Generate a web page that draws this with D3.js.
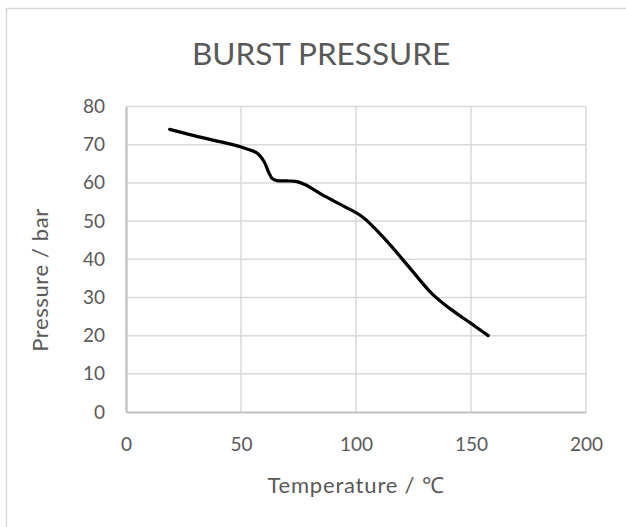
<!DOCTYPE html>
<html>
<head>
<meta charset="utf-8">
<script src="https://cdn.jsdelivr.net/npm/d3@7"></script>
<style>
  html, body { margin: 0; padding: 0; background: #fff; }
  svg { display: block; }
  text { font-family: Lato, "Open Sans", sans-serif; fill: #595959; }
</style>
</head>
<body>
<svg id="chart" width="626" height="527"></svg>
<script>
const title = "BURST PRESSURE";
const xTitle = "Temperature / ℃";
const yTitle = "Pressure / bar";
const xTicks = [0, 50, 100, 150, 200];
const yTicks = [0, 10, 20, 30, 40, 50, 60, 70, 80];
const temperature = [19, 30, 45, 52, 57, 60, 62, 63.5, 65.5, 70, 74, 78, 85, 95, 103, 113, 123, 133, 141, 150, 157.5];
const pressure    = [74, 72.3, 70.2, 69, 67.8, 65.6, 62.8, 61.2, 60.6, 60.5, 60.4, 59.5, 57, 53.8, 51, 45, 38, 31, 27, 23.2, 20];

const svg = d3.select("#chart");
const plot = { left: 126, right: 586, top: 106.5, bottom: 412 };

// chart border
svg.append("rect")
  .attr("x", 6.5).attr("y", 8.5).attr("width", 700).attr("height", 700)
  .attr("fill", "#fff").attr("stroke", "#d9d9d9").attr("stroke-width", 1.5);

const x = d3.scaleLinear().domain([0, 200]).range([plot.left, plot.right]);
const y = d3.scaleLinear().domain([0, 80]).range([plot.bottom, plot.top]);

// gridlines
const grid = svg.append("g").attr("stroke", "#d9d9d9").attr("stroke-width", 1.5);
grid.selectAll("line.h").data(yTicks.filter(d => d > 0)).join("line")
  .attr("x1", plot.left).attr("x2", plot.right)
  .attr("y1", d => y(d)).attr("y2", d => y(d));
grid.selectAll("line.v").data(xTicks.filter(d => d > 0)).join("line")
  .attr("x1", d => x(d)).attr("x2", d => x(d))
  .attr("y1", plot.top).attr("y2", plot.bottom);

// axes
const xAxis = svg.append("g").attr("transform", `translate(0,${plot.bottom})`)
  .call(d3.axisBottom(x).tickValues(xTicks).tickSize(0).tickPadding(26).tickFormat(d3.format("d")));
const yAxis = svg.append("g").attr("transform", `translate(${plot.left},0)`)
  .call(d3.axisLeft(y).tickValues(yTicks).tickSize(0).tickPadding(21).tickFormat(d3.format("d")));
[xAxis, yAxis].forEach(a => {
  a.select(".domain").attr("stroke", "#bfbfbf").attr("stroke-width", 2.2);
  a.selectAll("text").style("font-family", "Lato, 'Open Sans', sans-serif")
    .style("font-size", "19px").attr("fill", "#595959");
});

// line
const line = d3.line()
  .x((d, i) => x(temperature[i]))
  .y(d => y(d))
  .curve(d3.curveCatmullRom.alpha(0.5));
svg.append("path").datum(pressure)
  .attr("d", line)
  .attr("fill", "none").attr("stroke", "#000").attr("stroke-width", 3.2)
  .attr("stroke-linecap", "round").attr("stroke-linejoin", "round");

// titles
svg.append("text").attr("x", 321).attr("y", 65).attr("text-anchor", "middle")
  .style("font-size", "31.5px").text(title);
svg.append("text").attr("x", 356).attr("y", 493).attr("text-anchor", "middle")
  .style("font-size", "22px").style("letter-spacing", "0.8px").text(xTitle);
svg.append("text").attr("transform", "translate(48,280) rotate(-90)")
  .attr("text-anchor", "middle").style("font-size", "22px").style("letter-spacing", "0.6px").text(yTitle);
</script>
</body>
</html>
